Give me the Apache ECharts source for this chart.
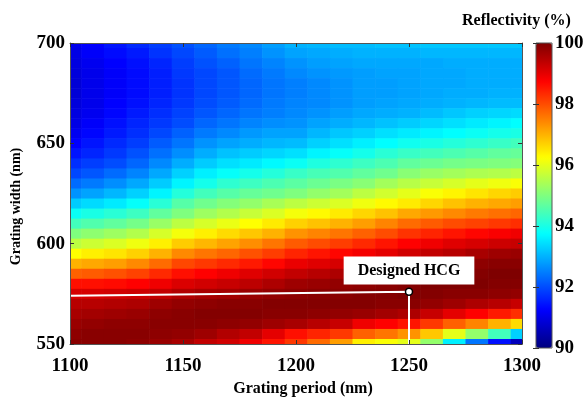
<!DOCTYPE html>
<html>
<head>
<meta charset="utf-8">
<script src="https://cdn.jsdelivr.net/npm/echarts@6/dist/echarts.min.js"></script>
<style>
html, body { margin: 0; padding: 0; background: #fff; }
#chart { width: 587px; height: 402px; }
</style>
</head>
<body>
<div id="chart"></div>
<script>
// grating period (nm) - one column per value
var periods = [1100, 1110, 1120, 1130, 1140, 1150, 1160, 1170, 1180, 1190, 1200,
  1210, 1220, 1230, 1240, 1250, 1260, 1270, 1280, 1290, 1300]
// grating width (nm) - one row per value, top to bottom
var widths = [700, 695, 690, 685, 680, 675, 670, 665, 660, 655, 650, 645, 640, 635, 630, 625,
  620, 615, 610, 605, 600, 595, 590, 585, 580, 575, 570, 565, 560, 555, 550]
// reflectivity (%), rows follow widths, columns follow periods
var reflectivity = [
  [91.05, 91.25, 91.45, 91.65, 91.85, 92.05, 92.25, 92.45, 92.6, 92.8, 93.0, 93.05, 93.1, 93.1, 93.15, 93.15, 93.2, 93.2, 93.2, 93.2, 93.2],
  [91.0, 91.2, 91.35, 91.5, 91.75, 91.95, 92.15, 92.35, 92.5, 92.7, 92.85, 92.9, 92.95, 93.0, 93.0, 93.0, 93.05, 93.05, 93.05, 93.05, 93.05],
  [90.95, 91.1, 91.25, 91.4, 91.6, 91.85, 92.05, 92.2, 92.4, 92.55, 92.7, 92.8, 92.85, 92.9, 92.9, 92.9, 92.9, 92.95, 92.95, 92.95, 92.95],
  [90.9, 91.05, 91.2, 91.35, 91.55, 91.8, 91.95, 92.1, 92.3, 92.45, 92.6, 92.7, 92.75, 92.8, 92.85, 92.85, 92.9, 92.9, 92.95, 92.95, 92.95],
  [90.85, 91.05, 91.2, 91.35, 91.55, 91.75, 91.95, 92.1, 92.25, 92.4, 92.5, 92.6, 92.7, 92.8, 92.8, 92.85, 92.9, 92.9, 92.95, 92.95, 92.95],
  [90.85, 91.05, 91.2, 91.35, 91.55, 91.75, 91.95, 92.1, 92.25, 92.4, 92.5, 92.6, 92.7, 92.8, 92.8, 92.85, 92.9, 92.95, 92.95, 93.0, 93.0],
  [90.9, 91.05, 91.25, 91.4, 91.6, 91.8, 92.0, 92.15, 92.3, 92.45, 92.55, 92.6, 92.7, 92.8, 92.85, 92.9, 92.95, 93.0, 93.05, 93.1, 93.1],
  [90.95, 91.1, 91.3, 91.5, 91.7, 91.9, 92.1, 92.25, 92.4, 92.5, 92.6, 92.7, 92.8, 92.9, 92.95, 93.0, 93.1, 93.2, 93.3, 93.35, 93.4],
  [91.0, 91.2, 91.4, 91.6, 91.8, 92.0, 92.25, 92.4, 92.55, 92.65, 92.7, 92.85, 92.95, 93.05, 93.15, 93.25, 93.35, 93.45, 93.55, 93.65, 93.75],
  [91.1, 91.3, 91.5, 91.7, 91.95, 92.2, 92.45, 92.6, 92.75, 92.85, 92.85, 93.05, 93.2, 93.3, 93.45, 93.55, 93.65, 93.75, 93.85, 93.95, 94.0],
  [91.25, 91.45, 91.65, 91.85, 92.15, 92.4, 92.7, 92.85, 92.95, 93.05, 93.1, 93.3, 93.45, 93.6, 93.75, 93.9, 94.0, 94.1, 94.2, 94.3, 94.4],
  [91.45, 91.6, 91.8, 92.05, 92.35, 92.65, 92.95, 93.15, 93.25, 93.35, 93.45, 93.65, 93.8, 93.95, 94.15, 94.3, 94.4, 94.5, 94.6, 94.7, 94.75],
  [91.7, 91.85, 92.0, 92.25, 92.6, 92.95, 93.25, 93.45, 93.55, 93.7, 93.85, 94.05, 94.2, 94.35, 94.5, 94.7, 94.8, 94.9, 94.95, 95.0, 95.05],
  [91.95, 92.1, 92.3, 92.55, 92.9, 93.3, 93.6, 93.8, 93.95, 94.1, 94.3, 94.45, 94.55, 94.7, 94.85, 95.1, 95.25, 95.35, 95.45, 95.5, 95.6],
  [92.3, 92.45, 92.65, 92.9, 93.25, 93.65, 93.95, 94.2, 94.35, 94.5, 94.65, 94.8, 94.95, 95.1, 95.35, 95.55, 95.7, 95.85, 96.0, 96.1, 96.2],
  [92.7, 92.85, 93.05, 93.3, 93.65, 94.1, 94.4, 94.6, 94.75, 94.85, 95.0, 95.2, 95.35, 95.6, 95.8, 96.0, 96.2, 96.35, 96.5, 96.65, 96.75],
  [93.25, 93.4, 93.55, 93.8, 94.15, 94.6, 94.85, 95.05, 95.2, 95.4, 95.6, 95.75, 95.9, 96.1, 96.3, 96.45, 96.65, 96.85, 97.0, 97.1, 97.2],
  [93.85, 94.0, 94.15, 94.35, 94.7, 95.0, 95.3, 95.5, 95.7, 95.9, 96.15, 96.3, 96.45, 96.65, 96.85, 97.1, 97.25, 97.4, 97.55, 97.65, 97.75],
  [94.4, 94.55, 94.7, 94.9, 95.25, 95.6, 95.85, 96.05, 96.25, 96.45, 96.7, 96.85, 97.0, 97.2, 97.45, 97.7, 97.85, 98.0, 98.1, 98.2, 98.3],
  [95.0, 95.15, 95.3, 95.5, 95.85, 96.15, 96.4, 96.6, 96.8, 97.0, 97.3, 97.45, 97.6, 97.8, 98.0, 98.25, 98.4, 98.55, 98.7, 98.8, 98.9],
  [95.6, 95.75, 95.9, 96.1, 96.4, 96.75, 96.95, 97.15, 97.35, 97.6, 97.85, 98.0, 98.15, 98.35, 98.55, 98.75, 98.9, 99.05, 99.15, 99.25, 99.3],
  [96.25, 96.4, 96.5, 96.7, 97.0, 97.4, 97.6, 97.75, 97.95, 98.15, 98.4, 98.55, 98.7, 98.85, 99.0, 99.2, 99.35, 99.45, 99.6, 99.7, 99.75],
  [97.0, 97.1, 97.2, 97.4, 97.7, 98.05, 98.2, 98.35, 98.5, 98.7, 98.95, 99.05, 99.15, 99.3, 99.45, 99.6, 99.7, 99.8, 99.85, 99.9, 99.9],
  [97.8, 97.85, 97.95, 98.1, 98.35, 98.6, 98.75, 98.9, 99.05, 99.2, 99.35, 99.45, 99.55, 99.65, 99.75, 99.85, 99.9, 99.95, 99.95, 100, 100],
  [98.6, 98.6, 98.65, 98.75, 98.9, 99.1, 99.2, 99.3, 99.4, 99.55, 99.7, 99.75, 99.8, 99.85, 99.9, 99.95, 100, 100, 100, 99.95, 99.95],
  [99.15, 99.15, 99.2, 99.25, 99.35, 99.5, 99.6, 99.65, 99.75, 99.8, 99.85, 99.9, 99.9, 99.95, 99.95, 100, 99.95, 99.9, 99.9, 99.85, 99.8],
  [99.45, 99.45, 99.5, 99.55, 99.7, 99.8, 99.85, 99.9, 99.9, 99.95, 99.95, 99.95, 99.95, 99.95, 99.9, 99.9, 99.8, 99.7, 99.55, 99.45, 99.3],
  [99.6, 99.65, 99.7, 99.75, 99.85, 99.9, 99.95, 99.95, 99.95, 99.9, 99.9, 99.85, 99.8, 99.75, 99.65, 99.55, 99.3, 99.0, 98.75, 98.5, 98.3],
  [99.75, 99.8, 99.85, 99.85, 99.9, 99.9, 99.9, 99.85, 99.8, 99.7, 99.6, 99.45, 99.3, 98.9, 98.75, 98.55, 98.2, 97.8, 97.45, 97.0, 96.6],
  [99.85, 99.9, 99.9, 99.9, 99.85, 99.8, 99.7, 99.5, 99.35, 99.0, 98.6, 98.4, 98.2, 97.8, 97.6, 97.3, 96.8, 96.0, 95.2, 94.4, 93.3],
  [99.9, 99.9, 99.9, 99.85, 99.75, 99.6, 99.35, 99.2, 98.9, 98.55, 98.2, 97.7, 97.2, 96.4, 96.2, 96.0, 95.2, 93.6, 92.4, 91.4, 90.6]
]
// designed grating and the guide lines to it
var designPoint = [1250, 576]
var guideLine = [[1100, 574], [1250, 576], [1250, 550]]
var periodRange = [1100, 1300]
var widthRange = [550, 700]
var reflectRange = [90, 100]

var jet = ['#00007f', '#0000ff', '#007fff', '#00ffff', '#7fff7f', '#ffff00', '#ff7f00', '#ff0000', '#7f0000']
var serif = 'Liberation Serif'
var tickFont = { fontFamily: serif, fontWeight: 'bold', fontSize: 19, color: '#000' }
var frame = { show: true, lineStyle: { color: '#555', width: 1 } }
var inTick = { show: true, inside: true, length: 4, lineStyle: { color: '#333' } }
var plain = function (v) { return String(v) }

var cells = []
widths.forEach(function (w, i) {
  periods.forEach(function (p, j) {
    cells.push([p, w, reflectivity[i][j]])
  })
})
var halfX = (periods[1] - periods[0]) / 2
var halfY = (widths[0] - widths[1]) / 2

var chart = echarts.init(document.getElementById('chart'))
chart.setOption({
  animation: false,
  title: {
    text: 'Reflectivity (%)',
    left: 462,
    top: 13,
    padding: 0,
    textStyle: { fontFamily: serif, fontWeight: 'bold', fontSize: 16, color: '#000' }
  },
  grid: [
    { left: 70, top: 43, right: 65, bottom: 54 },
    { left: 536, top: 43, width: 16, height: 305, show: true, z: 10, borderColor: '#555', borderWidth: 1, backgroundColor: 'transparent' }
  ],
  xAxis: [
    {
      gridIndex: 0, type: 'value', min: periodRange[0], max: periodRange[1], interval: 50, z: 10,
      axisLine: frame, axisTick: inTick, splitLine: { show: false },
      axisLabel: Object.assign({ margin: 13, formatter: plain }, tickFont),
      name: 'Grating period (nm)', nameLocation: 'middle', nameGap: 37,
      nameTextStyle: { fontFamily: serif, fontWeight: 'bold', fontSize: 16, color: '#000', padding: [0, 0, 0, 14] }
    },
    {
      gridIndex: 0, type: 'value', position: 'top', min: periodRange[0], max: periodRange[1], interval: 50, z: 10,
      axisLine: frame, axisTick: inTick, axisLabel: { show: false }, splitLine: { show: false }
    },
    { gridIndex: 1, type: 'value', min: 0, max: 1, show: false }
  ],
  yAxis: [
    {
      gridIndex: 0, type: 'value', min: widthRange[0], max: widthRange[1], interval: 50, z: 10,
      axisLine: frame, axisTick: inTick, splitLine: { show: false },
      axisLabel: Object.assign({ margin: 5, formatter: plain }, tickFont),
      name: 'Grating width (nm)', nameLocation: 'middle', nameGap: 47, nameRotate: 90,
      nameTextStyle: { fontFamily: serif, fontWeight: 'bold', fontSize: 14, color: '#000', padding: [0, 26, 0, 0] }
    },
    {
      gridIndex: 0, type: 'value', position: 'right', min: widthRange[0], max: widthRange[1], interval: 50, z: 10,
      axisLine: frame, axisTick: inTick, axisLabel: { show: false }, splitLine: { show: false }
    },
    {
      gridIndex: 1, type: 'value', position: 'right', min: reflectRange[0], max: reflectRange[1], interval: 2, z: 10,
      axisLine: { show: false }, splitLine: { show: false },
      axisTick: { show: true, inside: true, length: 3, lineStyle: { color: '#333' } },
      axisLabel: Object.assign({ margin: 3 }, tickFont)
    },
    {
      gridIndex: 1, type: 'value', position: 'left', min: reflectRange[0], max: reflectRange[1], interval: 2, z: 10,
      axisLine: { show: false }, splitLine: { show: false }, axisLabel: { show: false },
      axisTick: { show: true, inside: true, length: 3, lineStyle: { color: '#333' } }
    }
  ],
  visualMap: {
    type: 'continuous',
    min: reflectRange[0],
    max: reflectRange[1],
    dimension: 2,
    seriesIndex: 0,
    calculable: false,
    hoverLink: false,
    orient: 'vertical',
    left: 536,
    top: 43,
    itemWidth: 16,
    itemHeight: 305,
    padding: 0,
    inRange: { color: jet }
  },
  series: [
    {
      type: 'custom',
      xAxisIndex: 0,
      yAxisIndex: 0,
      data: cells,
      encode: { x: 0, y: 1 },
      silent: true,
      renderItem: function (params, api) {
        var x = api.value(0)
        var y = api.value(1)
        var p0 = api.coord([Math.max(x - halfX, periodRange[0]), Math.min(y + halfY, widthRange[1])])
        var p1 = api.coord([Math.min(x + halfX, periodRange[1]), Math.max(y - halfY, widthRange[0])])
        return {
          type: 'rect',
          shape: { x: p0[0], y: p0[1], width: p1[0] - p0[0] + 0.6, height: p1[1] - p0[1] + 0.6 },
          style: { fill: api.visual('color') }
        }
      }
    },
    {
      type: 'line',
      xAxisIndex: 0,
      yAxisIndex: 0,
      data: guideLine,
      symbol: 'none',
      silent: true,
      z: 3,
      lineStyle: { color: '#fff', width: 2 }
    },
    {
      type: 'scatter',
      xAxisIndex: 0,
      yAxisIndex: 0,
      data: [designPoint],
      symbolSize: 7,
      silent: true,
      z: 4,
      itemStyle: { color: '#fff', borderColor: '#000', borderWidth: 1.5, opacity: 1 },
      label: {
        show: true,
        position: 'top',
        distance: 3,
        formatter: 'Designed HCG',
        backgroundColor: '#fff',
        opacity: 1,
        padding: [6, 14],
        fontFamily: serif,
        fontWeight: 'bold',
        fontSize: 16,
        color: '#000'
      }
    }
  ]
})
</script>
</body>
</html>
